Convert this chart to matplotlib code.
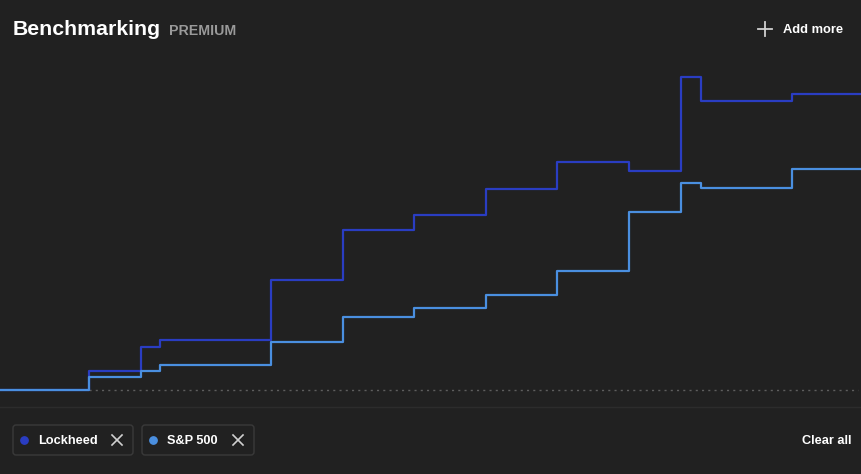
import numpy as np
import matplotlib
matplotlib.use("Agg")
from matplotlib import pyplot as plt
from matplotlib.patches import FancyBboxPatch

# step start positions (trading day index) and cumulative return (%)
days = [0, 89, 141, 160, 271, 343, 414, 486, 557, 629, 681, 701, 792, 861]
lockheed = [0, 1.9, 4.3, 5.0, 11.0, 16.0, 17.5, 20.1, 22.8, 21.9, 31.3, 28.9, 29.6, 29.6]
sp500 = [0, 1.3, 1.9, 2.5, 4.8, 7.3, 8.2, 9.5, 11.9, 17.8, 20.7, 20.2, 22.1, 22.1]

series_names = ["Lockheed", "S&P 500"]
series_colors = ["#2a3dc2", "#4a8fe0"]

BG = "#212121"
W, H = 861, 474

fig = plt.figure(figsize=(W / 100, H / 100), dpi=100)
fig.patch.set_facecolor(BG)

# chart area
ax = fig.add_axes([0, 1 - 407 / H, 1, (407 - 60) / H])
ax.set_facecolor(BG)
ax.step(days, lockheed, where="post", color=series_colors[0], lw=1.6, zorder=3)
ax.step(days, sp500, where="post", color=series_colors[1], lw=1.6, zorder=4)
ax.hlines(0, days[1], 858, colors="#5e5e5e", linestyles=(0, (1.5, 3.0)), lw=1, zorder=2)
ax.set_xlim(0, 861)
ax.set_ylim(-1.67, 33.03)
ax.axis("off")

# overlay in pixel coords for header / legend chips
ui = fig.add_axes([0, 0, 1, 1], facecolor="none")
ui.set_xlim(0, W)
ui.set_ylim(H, 0)
ui.axis("off")

font = "Liberation Sans"
ui.text(13, 29, "Benchmarking", color="white", fontsize=15.3, fontweight="bold",
        family=font, va="center", ha="left")
ui.text(169, 31, "PREMIUM", color="#9a9a9a", fontsize=10.2, fontweight="bold",
        family=font, va="center", ha="left")
ui.plot([758, 772], [29, 29], color="#d0d0d0", lw=1.3)
ui.plot([765, 765], [22, 36], color="#d0d0d0", lw=1.3)
ui.text(783, 30, "Add more", color="white", fontsize=9.3, fontweight="bold",
        family=font, va="center", ha="left")

ui.plot([0, W], [407, 407], color="#2c2c2c", lw=1)

chips = [(13, 133), (142, 254)]
for (x0, x1), name, col in zip(chips, series_names, series_colors):
    ui.add_patch(FancyBboxPatch((x0, 425), x1 - x0, 30,
                                boxstyle="round,pad=0,rounding_size=3",
                                fc=BG, ec="#3a3a3a", lw=1))
    ui.scatter([x0 + 11], [440], s=28, color=col, zorder=5)
    ui.text(x0 + 25, 441, name, color="white", fontsize=9.2, fontweight="bold",
            family=font, va="center", ha="left")
    xc = x1 - 16
    ui.plot([xc - 5, xc + 5], [435, 445], color="#d0d0d0", lw=1.2)
    ui.plot([xc - 5, xc + 5], [445, 435], color="#d0d0d0", lw=1.2)

ui.text(851, 441, "Clear all", color="white", fontsize=9.2, fontweight="bold",
        family=font, va="center", ha="right")

fig.savefig("out.png", dpi=100, facecolor=BG)
